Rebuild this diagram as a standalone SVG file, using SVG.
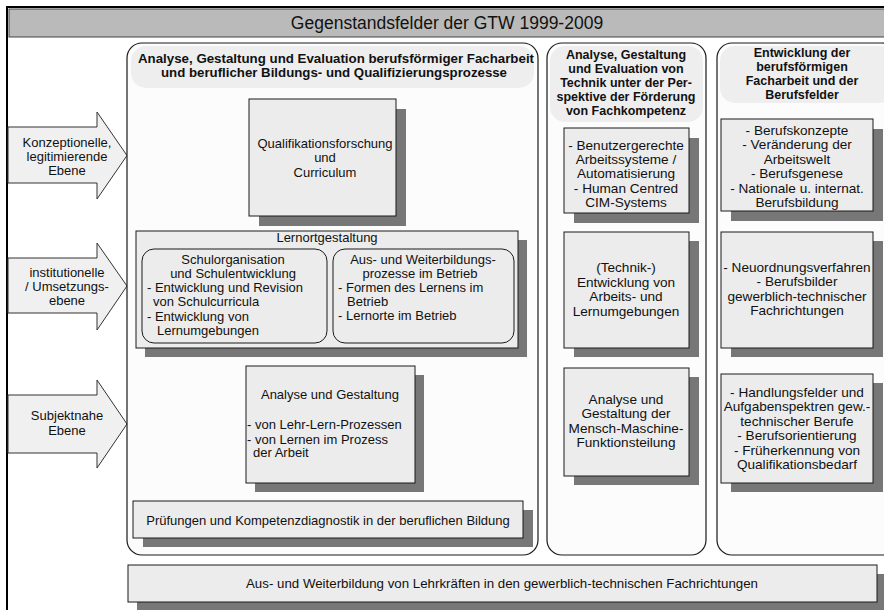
<svg xmlns="http://www.w3.org/2000/svg" width="884" height="610" viewBox="0 0 884 610">
<style>
text{font-family:"Liberation Sans",Arial,sans-serif;font-size:13px;fill:#111}
.c{text-anchor:middle}
.b{font-weight:bold;font-size:12.5px}
.r{font-size:13.6px}
.box{fill:#ececec;stroke:#1a1a1a;stroke-width:1}
.sh{fill:#777}
.col{fill:#fcfcfc;stroke:#1a1a1a;stroke-width:1.2}
.hd{fill:#eeeeee}
.arr{fill:#f0f0f0;stroke:#333;stroke-width:1}
.in{fill:#ececec;stroke:#1a1a1a;stroke-width:1}
</style>
<rect x="0" y="0" width="884" height="610" fill="#ffffff"/>
<g id="frame">
<rect x="7" y="7" width="890" height="620" fill="#ffffff" stroke="#000" stroke-width="2"/>
<rect x="9" y="9" width="880" height="28" fill="#bababa" stroke="#444" stroke-width="1"/>
<text class="c" x="447" y="29" style="font-size:17.5px">Gegenstandsfelder der GTW 1999-2009</text>
</g>

<g id="arrow-konzeptionell">
<polygon class="arr" points="8,127 97,127 97,112 127,155.5 97,199 97,183 8,183"/>
<text class="c" x="67" y="147">Konzeptionelle,</text>
<text class="c" x="67" y="161">legitimierende</text>
<text class="c" x="67" y="175">Ebene</text>
</g>
<g id="arrow-institutionell">
<polygon class="arr" points="8,258 97,258 97,243 127,286 97,330 97,313 8,313"/>
<text class="c" x="67" y="277">institutionelle</text>
<text class="c" x="67" y="291">/ Umsetzungs-</text>
<text class="c" x="67" y="305">ebene</text>
</g>
<g id="arrow-subjektnah">
<polygon class="arr" points="8,395 97,395 97,380 127,424 97,468 97,453 8,453"/>
<text class="c" x="67" y="420">Subjektnahe</text>
<text class="c" x="67" y="435">Ebene</text>
</g>

<g id="col1">
<rect class="col" x="127" y="43" width="411" height="512" rx="15"/>
<rect class="hd" x="131" y="46" width="403" height="42" rx="15"/>
<text class="c b" x="336" y="63" textLength="396" lengthAdjust="spacingAndGlyphs">Analyse, Gestaltung  und Evaluation berufsförmiger Facharbeit</text>
<text class="c b" x="334" y="77" textLength="346" lengthAdjust="spacingAndGlyphs">und beruflicher Bildungs- und Qualifizierungsprozesse</text>
</g>
<g id="col2">
<rect class="col" x="547" y="43" width="159" height="512" rx="15"/>
<rect class="hd" x="550" y="46" width="153" height="76" rx="15"/>
<text class="c b" x="626" y="59">Analyse, Gestaltung</text>
<text class="c b" x="626" y="73">und Evaluation von</text>
<text class="c b" x="626" y="87">Technik unter der Per-</text>
<text class="c b" x="626" y="101">spektive der Förderung</text>
<text class="c b" x="626" y="115">von Fachkompetenz</text>
</g>
<g id="col3">
<rect class="col" x="717" y="43" width="180" height="512" rx="15"/>
<rect class="hd" x="720" y="46" width="174" height="57" rx="15"/>
<text class="c b" x="802" y="57">Entwicklung der</text>
<text class="c b" x="802" y="71">berufsförmigen</text>
<text class="c b" x="802" y="85">Facharbeit und der</text>
<text class="c b" x="802" y="99">Berufsfelder</text>
</g>

<g id="qualifikationsforschung">
<rect class="sh" x="259" y="109" width="147" height="117"/>
<rect class="box" x="249" y="99" width="147" height="117"/>
<text class="c" x="325" y="147.5">Qualifikationsforschung</text>
<text class="c" x="325" y="162">und</text>
<text class="c" x="325" y="177">Curriculum</text>
</g>

<g id="lernortgestaltung">
<rect class="sh" x="145" y="240" width="382" height="117"/>
<rect class="box" x="136" y="231" width="382" height="117"/>
<text class="c" x="327" y="241.5">Lernortgestaltung</text>
</g>
<g id="schulorganisation">
<rect class="in" x="142" y="249" width="185" height="94" rx="12"/>
<text class="c" x="233" y="263.5">Schulorganisation</text>
<text class="c" x="233" y="277.5">und Schulentwicklung</text>
<text x="147" y="292">- Entwicklung und Revision</text>
<text x="153" y="306">von Schulcurricula</text>
<text x="147" y="321">- Entwicklung von</text>
<text x="157" y="335">Lernumgebungen</text>
</g>
<g id="betrieb">
<rect class="in" x="333" y="249" width="181" height="94" rx="12"/>
<text class="c" x="423" y="263.5">Aus- und Weiterbildungs-</text>
<text class="c" x="420" y="277.5">prozesse im Betrieb</text>
<text x="338" y="292">- Formen des Lernens im</text>
<text x="347" y="306">Betrieb</text>
<text x="338" y="320">- Lernorte im Betrieb</text>
</g>

<g id="analyse-gestaltung">
<rect class="sh" x="255" y="375" width="169" height="117"/>
<rect class="box" x="246" y="366" width="169" height="117"/>
<text class="c" x="330" y="398.5">Analyse und Gestaltung</text>
<text x="247" y="428.5">- von Lehr-Lern-Prozessen</text>
<text x="247" y="443.5">- von Lernen im Prozess</text>
<text x="253" y="457">der Arbeit</text>
</g>

<g id="pruefungen">
<rect class="sh" x="143" y="510" width="390" height="37"/>
<rect class="box" x="133" y="501" width="390" height="37"/>
<text class="c" x="328" y="524.5">Prüfungen und Kompetenzdiagnostik in der beruflichen Bildung</text>
</g>

<g id="lehrkraefte">
<rect class="sh" x="137" y="574" width="750" height="37"/>
<rect class="box" x="128" y="565" width="749" height="37"/>
<text class="c" x="502" y="587.5" style="font-size:13.3px">Aus- und Weiterbildung von Lehrkräften in den gewerblich-technischen Fachrichtungen</text>
</g>

<g id="benutzergerechte">
<rect class="sh" x="574" y="138" width="125" height="85"/>
<rect class="box" x="564" y="128" width="125" height="85"/>
<text class="c r" x="626" y="149.5">- Benutzergerechte</text>
<text class="c r" x="626" y="163.5">Arbeitssysteme /</text>
<text class="c r" x="626" y="178">Automatisierung</text>
<text class="c r" x="626" y="192.5">- Human Centred</text>
<text class="c r" x="626" y="207">CIM-Systems</text>
</g>
<g id="technikentwicklung">
<rect class="sh" x="574" y="241" width="125" height="116"/>
<rect class="box" x="564" y="232" width="125" height="116"/>
<text class="c r" x="626" y="272">(Technik-)</text>
<text class="c r" x="626" y="286.5">Entwicklung von</text>
<text class="c r" x="626" y="301">Arbeits- und</text>
<text class="c r" x="626" y="315.5">Lernumgebungen</text>
</g>
<g id="mensch-maschine">
<rect class="sh" x="574" y="377" width="125" height="108"/>
<rect class="box" x="564" y="368" width="125" height="108"/>
<text class="c r" x="626" y="403.5">Analyse und</text>
<text class="c r" x="626" y="418">Gestaltung der</text>
<text class="c r" x="626" y="432.5">Mensch-Maschine-</text>
<text class="c r" x="626" y="447">Funktionsteilung</text>
</g>

<g id="berufskonzepte">
<rect class="sh" x="731" y="129" width="152" height="92"/>
<rect class="box" x="721" y="119" width="152" height="92"/>
<text class="c r" x="797" y="134.5">- Berufskonzepte</text>
<text class="c r" x="797" y="149">- Veränderung der</text>
<text class="c r" x="797" y="163.5">Arbeitswelt</text>
<text class="c r" x="797" y="178">- Berufsgenese</text>
<text class="c r" x="797" y="192.5">- Nationale u. internat.</text>
<text class="c r" x="797" y="207">Berufsbildung</text>
</g>
<g id="neuordnung">
<rect class="sh" x="731" y="241" width="152" height="116"/>
<rect class="box" x="721" y="232" width="152" height="116"/>
<text class="c r" x="797" y="271.5">- Neuordnungsverfahren</text>
<text class="c r" x="797" y="286">- Berufsbilder</text>
<text class="c r" x="797" y="300.5">gewerblich-technischer</text>
<text class="c r" x="797" y="315">Fachrichtungen</text>
</g>
<g id="handlungsfelder">
<rect class="sh" x="731" y="383" width="152" height="109"/>
<rect class="box" x="721" y="374" width="152" height="109"/>
<text class="c r" x="797" y="396.5">- Handlungsfelder und</text>
<text class="c r" x="797" y="411">Aufgabenspektren gew.-</text>
<text class="c r" x="797" y="425.5">technischer Berufe</text>
<text class="c r" x="797" y="440">- Berufsorientierung</text>
<text class="c r" x="797" y="454.5">- Früherkennung von</text>
<text class="c r" x="797" y="469">Qualifikationsbedarf</text>
</g>
<g id="connectors"></g>
</svg>
